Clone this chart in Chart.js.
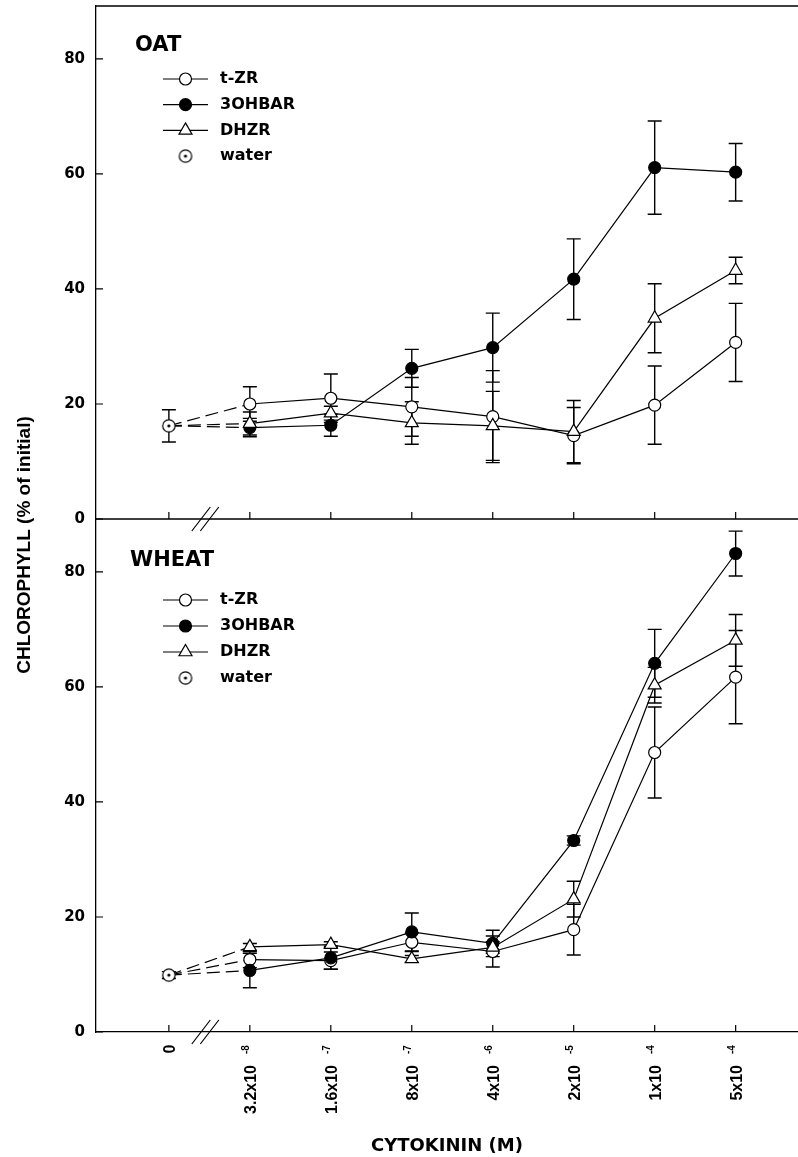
<!DOCTYPE html>
<html>
<head>
<meta charset="utf-8">
<script src="https://cdn.jsdelivr.net/npm/chart.js@4.4.1/dist/chart.umd.min.js"></script>
<style>
  html, body { margin: 0; padding: 0; background: #fff; }
  canvas { display: block; }
</style>
</head>
<body>
<canvas id="chart" width="798" height="1157"></canvas>
<script>
// cytokinin concentration (M): base text + exponent
const categories = ['0', '3.2x10', '1.6x10', '8x10', '4x10', '2x10', '1x10', '5x10'];
const exponents = ['', '-8', '-7', '-7', '-6', '-5', '-4', '-4'];
const yTicks = [0, 20, 40, 60, 80];
const seriesNames = ['t-ZR', '3OHBAR', 'DHZR', 'water'];
const panelNames = ['OAT', 'WHEAT'];

// water control at x = 0  -> [oat, wheat]
const waterMean = [16.2, 9.9];
const waterErr = [2.8, 0.6];

// OAT (concentrations 1..7)
const oatTZR = [20.0, 21.0, 19.5, 17.8, 14.5, 19.8, 30.7];
const oatTZRErr = [3.0, 4.2, 5.1, 8.0, 4.9, 6.8, 6.8];
const oatOHBAR = [15.9, 16.3, 26.2, 29.8, 41.7, 61.1, 60.3];
const oatOHBARErr = [1.6, 1.9, 3.3, 6.0, 7.0, 8.1, 5.0];
const oatDHZR = [16.6, 18.4, 16.7, 16.2, 15.2, 34.9, 43.2];
const oatDHZRErr = [2.0, 1.2, 3.7, 6.0, 5.4, 6.0, 2.3];

// WHEAT
const wheatTZR = [12.6, 12.4, 15.6, 14.0, 17.8, 48.6, 61.7];
const wheatTZRErr = [1.4, 1.5, 1.6, 2.7, 4.4, 7.9, 8.1];
const wheatOHBAR = [10.7, 12.9, 17.4, 15.4, 33.3, 64.1, 83.2];
const wheatOHBARErr = [3.0, 2.0, 3.3, 2.3, 0.8, 5.9, 3.9];
const wheatDHZR = [14.8, 15.2, 12.7, 14.7, 23.1, 60.3, 68.1];
const wheatDHZRErr = [0.6, 0.5, 0.6, 1.0, 3.1, 3.1, 4.5];

const BOLD_WIDE = "'DejaVu Sans', sans-serif";
const BOLD_NARROW = "'Liberation Sans', Arial, sans-serif";

// circle with a dot, used for water
const waterIcon = document.createElement('canvas');
waterIcon.width = 16; waterIcon.height = 16;
(function () {
  const c = waterIcon.getContext('2d');
  c.fillStyle = '#fff'; c.strokeStyle = '#000'; c.lineWidth = 1.2;
  c.beginPath(); c.arc(8, 8, 6.2, 0, Math.PI * 2); c.fill(); c.stroke();
  c.fillStyle = '#000';
  c.beginPath(); c.arc(8, 8, 1.6, 0, Math.PI * 2); c.fill();
})();

const styles = {
  't-ZR':   { pointStyle: 'circle', radius: 6, fill: '#fff' },
  '3OHBAR': { pointStyle: 'circle', radius: 6, fill: '#000' },
  'DHZR':   { pointStyle: 'triangle', radius: 7.5, fill: '#fff' },
  'water':  { pointStyle: waterIcon, radius: 7, fill: '#fff' }
};

function series(name, axis, water, vals, errs, order) {
  const st = styles[name];
  return {
    label: name,
    yAxisID: axis,
    order: order,
    data: [{ x: 0, y: water }].concat(vals.map((v, i) => ({ x: i + 1, y: v }))),
    errors: [null].concat(errs),
    borderColor: '#000',
    borderWidth: 1.2,
    backgroundColor: st.fill,
    pointBackgroundColor: st.fill,
    pointBorderColor: '#000',
    pointBorderWidth: 1.2,
    pointStyle: st.pointStyle,
    pointRadius: c => c.dataIndex === 0 ? 0 : st.radius,
    tension: 0,
    segment: { borderDash: c => c.p0DataIndex === 0 ? [13, 6] : undefined }
  };
}

function waterSet(axis, p) {
  return {
    label: 'water',
    yAxisID: axis,
    order: 0,
    data: [{ x: 0, y: waterMean[p] }],
    errors: [waterErr[p]],
    showLine: false,
    pointStyle: waterIcon,
    pointRadius: 7
  };
}

const datasets = [
  waterSet('yTop', 0),
  series('DHZR', 'yTop', waterMean[0], oatDHZR, oatDHZRErr, 1),
  series('3OHBAR', 'yTop', waterMean[0], oatOHBAR, oatOHBARErr, 2),
  series('t-ZR', 'yTop', waterMean[0], oatTZR, oatTZRErr, 3),
  waterSet('yBot', 1),
  series('DHZR', 'yBot', waterMean[1], wheatDHZR, wheatDHZRErr, 1),
  series('3OHBAR', 'yBot', waterMean[1], wheatOHBAR, wheatOHBARErr, 2),
  series('t-ZR', 'yBot', waterMean[1], wheatTZR, wheatTZRErr, 3)
];

function drawMarker(ctx, name, x, y) {
  const st = styles[name];
  if (typeof st.pointStyle !== 'string') {
    ctx.drawImage(st.pointStyle, x - st.pointStyle.width / 2, y - st.pointStyle.height / 2);
    return;
  }
  const r = st.radius;
  ctx.beginPath();
  if (st.pointStyle === 'circle') {
    ctx.arc(x, y, r, 0, Math.PI * 2);
  } else {
    ctx.moveTo(x, y - r);
    ctx.lineTo(x + 0.866 * r, y + 0.5 * r);
    ctx.lineTo(x - 0.866 * r, y + 0.5 * r);
    ctx.closePath();
  }
  ctx.fillStyle = st.fill;
  ctx.fill();
  ctx.lineWidth = 1.2;
  ctx.stroke();
}

// per panel annotation offsets from the panel top
const titleX = [135, 130];
const titleDy = [40, 42];
const legendDy = [73, 81];
const legendStep = [25.7, 26];

const decor = {
  id: 'decor',
  beforeDatasetsDraw(chart) {
    const { ctx } = chart;
    const xs = chart.scales.x;
    ctx.save();
    ctx.strokeStyle = '#000';
    ctx.lineWidth = 1.4;
    chart.data.datasets.forEach(ds => {
      const ys = chart.scales[ds.yAxisID];
      ds.data.forEach((pt, i) => {
        const e = ds.errors[i];
        if (e == null) return;
        const x = xs.getPixelForValue(pt.x);
        const y1 = ys.getPixelForValue(pt.y + e);
        const y2 = ys.getPixelForValue(pt.y - e);
        ctx.beginPath();
        ctx.moveTo(x, y1); ctx.lineTo(x, y2);
        ctx.moveTo(x - 7, y1); ctx.lineTo(x + 7, y1);
        ctx.moveTo(x - 7, y2); ctx.lineTo(x + 7, y2);
        ctx.stroke();
      });
    });
    ctx.restore();
  },
  afterDraw(chart) {
    const { ctx, chartArea: ca } = chart;
    const xs = chart.scales.x, yt = chart.scales.yTop, yb = chart.scales.yBot;
    ctx.save();
    ctx.strokeStyle = '#000';
    ctx.fillStyle = '#000';

    // top frame line and panel divider
    ctx.lineWidth = 1.3;
    ctx.beginPath();
    ctx.moveTo(ca.left, yt.top); ctx.lineTo(ca.right, yt.top);
    ctx.moveTo(ca.left, yt.bottom); ctx.lineTo(ca.right, yt.bottom);
    ctx.stroke();

    // inward tick marks
    ctx.lineWidth = 1.2;
    ctx.beginPath();
    [yt, yb].forEach(ys => {
      yTicks.forEach(v => {
        const y = ys.getPixelForValue(v);
        ctx.moveTo(ca.left, y); ctx.lineTo(ca.left + 7, y);
      });
      categories.forEach((c, i) => {
        const x = xs.getPixelForValue(i);
        ctx.moveTo(x, ys.bottom); ctx.lineTo(x, ys.bottom - 7);
      });
    });
    ctx.stroke();

    // axis breaks
    const bx = xs.getPixelForValue(0.45);
    ctx.beginPath();
    [yt, yb].forEach(ys => {
      const y = ys.bottom;
      ctx.moveTo(bx - 13.5, y + 12); ctx.lineTo(bx + 5, y - 12);
      ctx.moveTo(bx - 5, y + 12); ctx.lineTo(bx + 13.5, y - 12);
    });
    ctx.stroke();

    // x tick labels (rotated, with exponent)
    categories.forEach((c, i) => {
      const x = xs.getPixelForValue(i);
      ctx.save();
      ctx.translate(x, yb.bottom);
      ctx.rotate(-Math.PI / 2);
      ctx.textBaseline = 'alphabetic';
      ctx.font = 'bold 16px ' + BOLD_NARROW;
      if (exponents[i] === '') {
        ctx.textAlign = 'center';
        ctx.fillText(c, -17, 6.5);
      } else {
        ctx.textAlign = 'right';
        ctx.fillText(c, -33, 6.5);
        ctx.font = 'bold 10px ' + BOLD_NARROW;
        ctx.textAlign = 'left';
        ctx.fillText(exponents[i], -22, -1);
      }
      ctx.restore();
    });

    // panel titles and legends
    [yt, yb].forEach((ys, p) => {
      const top = ys.top;
      ctx.textAlign = 'left';
      ctx.textBaseline = 'middle';
      ctx.font = 'bold 21px ' + BOLD_WIDE;
      ctx.fillText(panelNames[p], titleX[p], top + titleDy[p]);
      seriesNames.forEach((name, i) => {
        const y = top + legendDy[p] + i * legendStep[p];
        if (name !== 'water') {
          ctx.lineWidth = 1.2;
          ctx.beginPath();
          ctx.moveTo(163, y); ctx.lineTo(208, y);
          ctx.stroke();
        }
        drawMarker(ctx, name, 185.5, y);
        ctx.fillStyle = '#000';
        ctx.font = 'bold 16px ' + BOLD_WIDE;
        ctx.fillText(name, 220, y);
      });
    });

    // y axis title
    ctx.save();
    ctx.translate(25, 545);
    ctx.rotate(-Math.PI / 2);
    ctx.textAlign = 'center';
    ctx.textBaseline = 'middle';
    ctx.font = 'bold 19px ' + BOLD_NARROW;
    ctx.fillText('CHLOROPHYLL (% of initial)', 0, 0);
    ctx.restore();

    ctx.restore();
  }
};

function noPad(s) {
  s.paddingTop = 0; s.paddingBottom = 0; s.paddingLeft = 0; s.paddingRight = 0;
}

function yAxis() {
  return {
    type: 'linear',
    position: 'left',
    stack: 'panels',
    stackWeight: 1,
    min: 0,
    max: 89.2,
    afterBuildTicks: s => { s.ticks = yTicks.map(v => ({ value: v })); },
    afterFit: s => { s.width = 96; noPad(s); },
    grid: { display: false, drawTicks: false },
    border: { display: true, color: '#000', width: 1.3 },
    ticks: { color: '#000', padding: 11, font: { family: BOLD_WIDE, size: 15, weight: 'bold' } }
  };
}

new Chart(document.getElementById('chart'), {
  type: 'line',
  data: { datasets },
  options: {
    responsive: false,
    animation: false,
    events: [],
    layout: { autoPadding: false, padding: { top: 6, left: 0, right: 0, bottom: 0 } },
    plugins: { legend: { display: false }, tooltip: { enabled: false } },
    scales: {
      x: {
        type: 'linear',
        position: 'bottom',
        min: -0.9,
        max: 7.77,
        afterBuildTicks: s => { s.ticks = categories.map((c, i) => ({ value: i })); },
        afterFit: s => { s.height = 125; noPad(s); },
        grid: { display: false, drawTicks: false },
        border: { display: true, color: '#000', width: 1.3 },
        ticks: { display: false },
        title: {
          display: true,
          text: 'CYTOKININ (M)',
          color: '#000',
          padding: 0,
          font: { family: BOLD_WIDE, size: 18, weight: 'bold' }
        }
      },
      yBot: yAxis(),
      yTop: yAxis()
    }
  },
  plugins: [decor]
});
</script>
</body>
</html>
